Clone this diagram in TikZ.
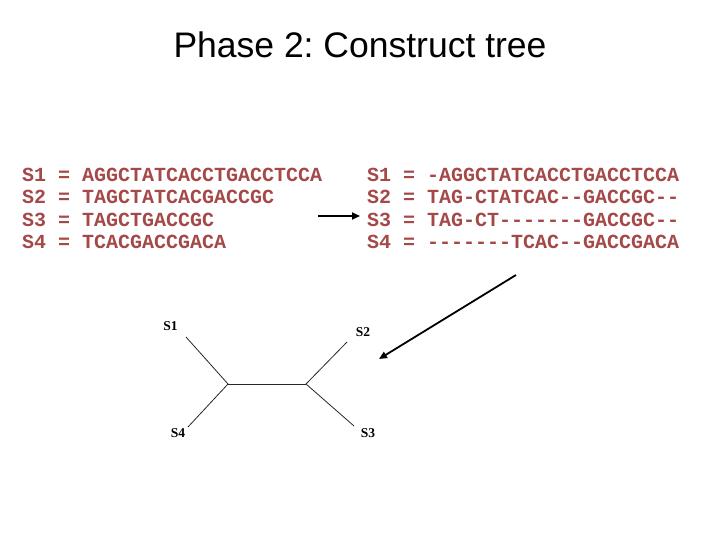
\documentclass[tikz,border=0pt]{standalone}
\usepackage{fontspec}
\setmainfont{Liberation Serif}
\newfontfamily\arial{Liberation Sans}
\newfontfamily\mono[Ligatures=TeXOff]{Liberation Mono}
\usetikzlibrary{arrows.meta}
\definecolor{seqred}{RGB}{165,72,72}
\begin{document}
\begin{tikzpicture}[x=1pt,y=-1pt,
  seq/.style={anchor=base west,inner sep=0pt,text=seqred,font=\mono\bfseries\fontsize{20}{22}\selectfont},
  leaf/.style={anchor=base,inner sep=0pt,font=\bfseries\fontsize{13.5}{15}\selectfont},
  branch/.style={line width=0.8pt,draw=black!85},
  bigarrow/.style={line width=1.8pt,-{Triangle[length=8pt,width=7pt]}}]
\useasboundingbox (0,0) rectangle (720,540);
\node[anchor=base,inner sep=0pt,font=\arial\fontsize{35.5}{40}\selectfont\frenchspacing] (title) at (360,58) {Phase 2: Construct tree};
% left block
\node[seq] (a1) at (22,182) {S1 = AGGCTATCACCTGACCTCCA};
\node[seq] (a2) at (22,204) {S2 = TAGCTATCACGACCGC};
\node[seq] (a3) at (22,226) {S3 = TAGCTGACCGC};
\node[seq] (a4) at (22,248) {S4 = TCACGACCGACA};
% right block
\node[seq] (b1) at (367,182) {S1 = -AGGCTATCACCTGACCTCCA};
\node[seq] (b2) at (367,204) {S2 = TAG-CTATCAC--GACCGC--};
\node[seq] (b3) at (367,226) {S3 = TAG-CT-------GACCGC--};
\node[seq] (b4) at (367,248) {S4 = -------TCAC--GACCGACA};
% arrows
\coordinate (sa0) at (318,216);
\coordinate (sa1) at (360,216);
\draw[bigarrow] (sa0) -- (sa1);
\coordinate (ba0) at (516,275);
\coordinate (ba1) at (379,359);
\draw[bigarrow] (ba0) -- (ba1);
% tree
\node[leaf] (l1) at (170.5,330.7) {S1};
\node[leaf] (l4) at (178,437.7) {S4};
\node[leaf] (l2) at (363,336) {S2};
\node[leaf] (l3) at (368,437) {S3};
\coordinate (jl) at (228,384);
\coordinate (jr) at (306,384);
\coordinate (e1) at (186,337);
\coordinate (e4) at (188,427);
\coordinate (e2) at (347,342);
\coordinate (e3) at (354,426);
\draw[branch] (e1) -- (jl) -- (e4);
\draw[branch] (jl) -- (jr);
\draw[branch] (e2) -- (jr) -- (e3);
\end{tikzpicture}
\end{document}
